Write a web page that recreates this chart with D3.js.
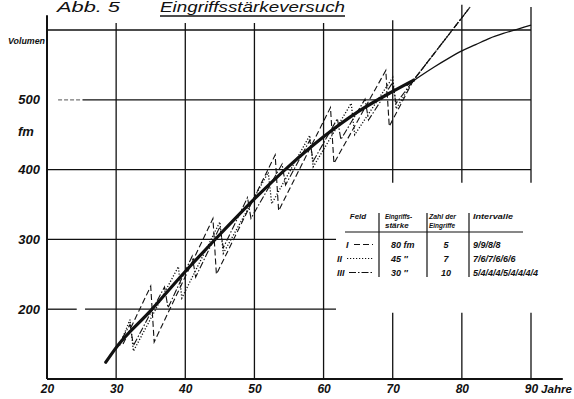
<!DOCTYPE html>
<html><head><meta charset="utf-8">
<script src="https://cdn.jsdelivr.net/npm/d3@7"></script>
<style>
html,body{margin:0;padding:0;background:#fff;}
svg text{font-family:"Liberation Sans",Arial,sans-serif;font-style:italic;fill:#111;}
</style></head><body>
<svg id="c" width="574" height="399"></svg>
<script>
// ---- data ----
const xTicks = [20, 30, 40, 50, 60, 70, 80, 90];
const yTicks = [200, 300, 400, 500];
const hGridValues = [600, 500, 400, 300, 200];

// thick mean line
const mainAges = [28.5, 30, 35, 40, 45, 50, 55, 60, 65, 70, 73];
const mainVols = [124, 145, 198, 254, 307, 358, 405, 447, 483, 512, 528];

// thin curve (right)
const curveAges = [72, 74, 76, 78, 80, 82, 84, 86, 88, 90];
const curveVols = [520, 534, 547, 559, 570, 579, 588, 595, 601, 607];

// Feld I (80 fm, 5 Eingriffe)
const field1Ages = [31, 35, 35.5, 44, 44.5, 53, 53.5, 61, 61.5, 69, 69.5, 73, 81.2];
const field1Vols = [150, 233, 153, 330, 250, 421, 341, 489, 409, 542, 462, 528, 633];
// Feld II (45 fm, 7 Eingriffe)
const field2Ages = [30.5, 32, 32.5, 39, 39.5, 45, 45.5, 52, 52.5, 58, 58.5, 64, 64.5, 70, 70.5, 73, 81.2];
const field2Vols = [148, 185, 140, 261, 216, 325, 280, 396, 351, 449, 404, 495, 450, 532, 487, 528, 633];
// Feld III (30 fm, 10 Eingriffe)
const field3Ages = [30, 32, 32.5, 37, 37.5, 41, 41.5, 45, 45.5, 49, 49.5, 54, 54.5, 58, 58.5, 62, 62.5, 66, 66.5, 70, 70.5, 73, 81.2];
const field3Vols = [143, 178, 148, 232, 202, 276, 246, 318, 288, 360, 330, 408, 378, 442, 412, 473, 443, 501, 471, 525, 495, 528, 633];

// table
const tableFeld = ["I", "II", "III"];
const tableStaerke = ["80 fm", "45  \u2033", "30  \u2033"];
const tableZahl = ["5", "7", "10"];
const tableIntervalle = ["9/9/8/8", "7/6/7/6/6/6", "5/4/4/4/5/4/4/4/4"];

// ---- drawing ----
const svg = d3.select("#c");
const x = d3.scaleLinear().domain([20, 90]).range([47, 531]);
const y = d3.scaleLinear().domain([100, 600]).range([379, 30]);
const ink = "#111";

const grid = svg.append("g").attr("stroke", ink).attr("stroke-width", 1.3).attr("fill", "none");
// horizontal grid
hGridValues.forEach(v => {
  let segs;
  if (v === 500) segs = [[25.2, 90]];
  else if (v === 200) segs = [[20, 24.3], [25.5, 61.8]];
  else if (v === 300) segs = [[20, 61.8]];
  else segs = [[20, 90]];
  segs.forEach(s => grid.append("line")
    .attr("x1", x(s[0])).attr("x2", x(s[1])).attr("y1", y(v)).attr("y2", y(v)));
});
grid.append("line").attr("x1", x(21.6)).attr("x2", x(25.2)).attr("y1", y(500)).attr("y2", y(500))
  .attr("stroke", "#777").attr("stroke-dasharray", "4,2");

// vertical grid
xTicks.slice(1).forEach(v => {
  let segs;
  if (v <= 60) segs = [[610, 100]];
  else if (v === 70) segs = [[614, 381], [195, 100]];
  else if (v === 80) segs = [[636, 381], [195, 100]];
  else segs = [[633, 381], [195, 100]];
  segs.forEach(s => grid.append("line")
    .attr("x1", x(v)).attr("x2", x(v)).attr("y1", y(s[0])).attr("y2", y(s[1])));
});
// axes lines
svg.append("line").attr("x1", x(20)).attr("x2", x(20)).attr("y1", y(621)).attr("y2", y(100))
  .attr("stroke", ink).attr("stroke-width", 2);
svg.append("line").attr("x1", x(20)).attr("x2", x(94.6)).attr("y1", y(100)).attr("y2", y(100))
  .attr("stroke", ink).attr("stroke-width", 2);

// axis labels
const xa = svg.append("g").attr("transform", `translate(0,${y(100)})`)
  .call(d3.axisBottom(x).tickValues(xTicks).tickSize(0).tickPadding(5));
xa.select(".domain").remove();
xa.selectAll("text").attr("font-size", 12).attr("font-weight", "bold")
  .style("font-family", "'Liberation Sans',Arial,sans-serif").style("font-style", "italic").attr("fill", ink);
svg.append("text").attr("x", x(90) + 10).attr("y", 393).attr("font-size", 11).attr("font-weight", "bold")
  .attr("textLength", 31).attr("lengthAdjust", "spacingAndGlyphs").text("Jahre");

const ya = svg.append("g").attr("transform", `translate(${x(20)},0)`)
  .call(d3.axisLeft(y).tickValues(yTicks).tickSize(0).tickPadding(7));
ya.select(".domain").remove();
ya.selectAll("text").attr("font-size", 13).attr("font-weight", "bold")
  .style("font-family", "'Liberation Sans',Arial,sans-serif").style("font-style", "italic").attr("fill", ink);
svg.append("text").attr("x", 18).attr("y", 136).attr("font-size", 13).attr("font-weight", "bold").text("fm");
svg.append("text").attr("x", 8).attr("y", 44).attr("font-size", 9).attr("font-weight", "bold")
  .attr("textLength", 37).attr("lengthAdjust", "spacingAndGlyphs").text("Volumen");

// title (kept fully inside the picture)
svg.append("text").attr("x", 57).attr("y", 12).attr("font-size", 14)
  .attr("textLength", 63).attr("lengthAdjust", "spacingAndGlyphs").text("Abb. 5");
svg.append("text").attr("x", 160).attr("y", 12).attr("font-size", 14)
  .attr("textLength", 185).attr("lengthAdjust", "spacingAndGlyphs").text("Eingriffsstärkeversuch");
svg.append("line").attr("x1", 160).attr("x2", 345).attr("y1", 16).attr("y2", 16)
  .attr("stroke", ink).attr("stroke-width", 1.5);

// curves
const line = d3.line().x(d => x(d[0])).y(d => y(d[1]));
const fieldStyles = ["6,3", "1.2,1.8", "7,2,1.5,2"];
[[field1Ages, field1Vols], [field2Ages, field2Vols], [field3Ages, field3Vols]].forEach((f, i) => {
  svg.append("path").datum(d3.zip(f[0], f[1])).attr("d", line)
    .attr("fill", "none").attr("stroke", ink).attr("stroke-width", i === 1 ? 1.3 : 1.1)
    .attr("stroke-dasharray", fieldStyles[i]);
});
svg.append("path").datum(d3.zip(curveAges, curveVols)).attr("d", line.curve(d3.curveMonotoneX))
  .attr("fill", "none").attr("stroke", ink).attr("stroke-width", 1.3);
svg.append("path").datum(d3.zip(mainAges, mainVols)).attr("d", line.curve(d3.curveMonotoneX))
  .attr("fill", "none").attr("stroke", ink).attr("stroke-width", 3.2).attr("stroke-linecap", "round");

// table
const t = svg.append("g");
const tf = (sel, size) => sel.attr("font-size", size).attr("font-weight", "bold");
tf(t.append("text").attr("x", 358).attr("y", 219).attr("text-anchor", "middle").text("Feld"), 8);
tf(t.append("text").attr("x", 385).attr("y", 219).attr("textLength", 27).attr("lengthAdjust", "spacingAndGlyphs").text("Eingriffs-"), 8);
tf(t.append("text").attr("x", 385).attr("y", 228).text("stärke"), 8);
tf(t.append("text").attr("x", 429).attr("y", 219).attr("textLength", 27).attr("lengthAdjust", "spacingAndGlyphs").text("Zahl der"), 8);
tf(t.append("text").attr("x", 429).attr("y", 228).attr("textLength", 26).attr("lengthAdjust", "spacingAndGlyphs").text("Eingriffe"), 8);
tf(t.append("text").attr("x", 473).attr("y", 219).attr("textLength", 40).attr("lengthAdjust", "spacingAndGlyphs").text("Intervalle"), 8);
t.append("line").attr("x1", 345).attr("x2", 523).attr("y1", 232).attr("y2", 232).attr("stroke", ink).attr("stroke-width", 1.2);
[379, 427, 469].forEach(cx => t.append("line").attr("x1", cx).attr("x2", cx).attr("y1", 213).attr("y2", 277)
  .attr("stroke", ink).attr("stroke-width", 1.2));
const rowY = [248, 262, 276];
const feldX = [346, 337, 337];
const sampleX = [354, 347, 349];
tableFeld.forEach((f, i) => {
  tf(t.append("text").attr("x", feldX[i]).attr("y", rowY[i]).text(f), 9);
  t.append("line").attr("x1", sampleX[i]).attr("x2", 373).attr("y1", rowY[i] - 3.5).attr("y2", rowY[i] - 3.5)
    .attr("stroke", ink).attr("stroke-width", 1.1).attr("stroke-dasharray", fieldStyles[i]);
  tf(t.append("text").attr("x", 391).attr("y", rowY[i]).text(tableStaerke[i]), 9);
  tf(t.append("text").attr("x", 446).attr("y", rowY[i]).attr("text-anchor", "middle").text(tableZahl[i]), 9);
  tf(t.append("text").attr("x", 473).attr("y", rowY[i]).text(tableIntervalle[i]), 9);
});
</script>
</body></html>
